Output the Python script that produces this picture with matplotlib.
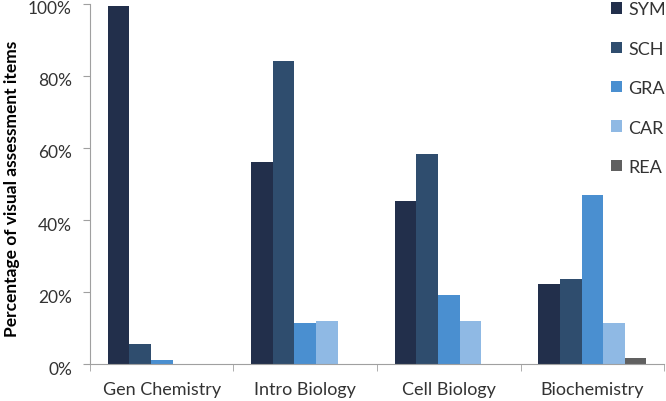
import numpy as np
import matplotlib
matplotlib.use('Agg')
import matplotlib.pyplot as plt
import matplotlib.transforms as mtransforms
from matplotlib.ticker import PercentFormatter

categories = ['Gen Chemistry', 'Intro Biology', 'Cell Biology', 'Biochemistry']
series = ['SYM', 'SCH', 'GRA', 'CAR', 'REA']
sym = [99.5, 56.2, 45.2, 22.2]
sch = [5.5, 84.3, 58.2, 23.6]
gra = [1.2, 11.3, 19.3, 47.0]
car = [0.0, 11.9, 11.9, 11.3]
rea = [0.0, 0.0, 0.0, 1.8]
colors = ['#222f4b', '#2f4d6e', '#4a8fd0', '#8fb9e4', '#606060']

plt.rcParams['font.family'] = ['Lato', 'DejaVu Sans']

fig = plt.figure(figsize=(6.66, 4.02), dpi=100)
ax = fig.add_axes([0.1351, 0.092, 0.862, 0.8956])

x = np.arange(len(categories))
w = 0.15
for i, (name, vals) in enumerate(zip(series, [sym, sch, gra, car, rea])):
    ax.bar(x + (i - 2) * w, vals, width=w, color=colors[i], label=name)

ax.set_xlim(-0.5, 3.5)
ax.set_ylim(0, 100)
ax.yaxis.set_major_formatter(PercentFormatter(decimals=0))
ax.set_yticks([0, 20, 40, 60, 80, 100])
ax.set_xticks(x)
ax.set_xticklabels(categories)
ax.set_xticks(np.arange(-0.5, 4, 1), minor=True)
ax.tick_params(axis='x', which='major', length=0, pad=12, labelsize=13, labelcolor='#333333')
ax.tick_params(axis='x', which='minor', length=5, color='#a0a0a0')
ax.tick_params(axis='y', length=5, pad=8, color='#a0a0a0', labelsize=12.5, labelcolor='#333333')

# labels in the original sit a few pixels below their ticks
shift = mtransforms.ScaledTranslation(0, -3 / 100, fig.dpi_scale_trans)
for lab in ax.get_yticklabels():
    lab.set_transform(lab.get_transform() + shift)

for s in ['top', 'right']:
    ax.spines[s].set_visible(False)
for s in ['left', 'bottom']:
    ax.spines[s].set_color('#a0a0a0')

ax.set_ylabel('Percentage of visual assessment items', fontweight='bold', fontsize=12.5)
ax.yaxis.set_label_coords(-0.122, 0.49)

fig.legend(loc='upper left', bbox_to_anchor=(0.893, 1.035), frameon=False,
           handlelength=0.6, handleheight=0.6, handletextpad=0.35,
           labelspacing=1.3, fontsize=13, labelcolor='#333333')

fig.savefig('out.png', dpi=100)
